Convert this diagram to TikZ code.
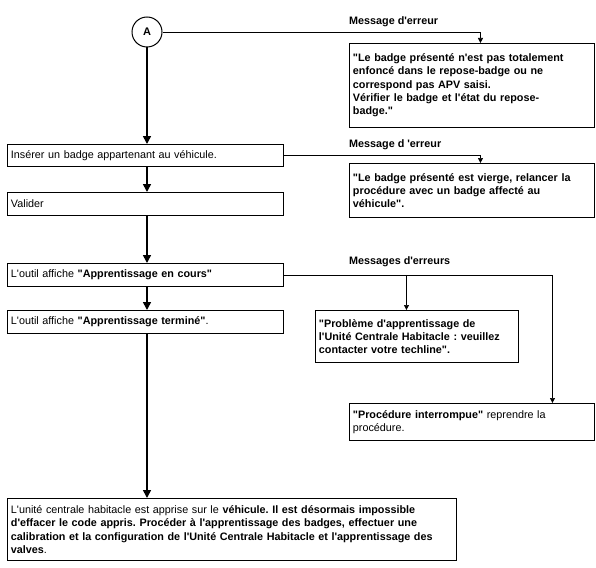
\documentclass[tikz,border=0pt]{standalone}
\usepackage{fontspec}
\usepackage{tikz}
\usetikzlibrary{calc,arrows.meta,positioning}
\newfontfamily\arialfont{Liberation Sans}
\definecolor{boxline}{RGB}{0,0,0}
\frenchspacing

\begin{document}
\begin{tikzpicture}[x=1pt, y=-1pt,
    box/.style={draw=boxline, line width=0.9pt, anchor=north west, align=left,
        inner xsep=3.5pt, inner ysep=4pt, font=\arialfont\fontsize{10.8}{13.3}\selectfont},
    msgbox/.style={box, font=\arialfont\bfseries\fontsize{10.8}{13.3}\selectfont},
    msglabel/.style={anchor=west, inner sep=0pt, font=\arialfont\bfseries\fontsize{10.8}{12}\selectfont},
    flow/.style={line width=1.6pt, -{Triangle[length=8pt,width=8pt]}},
    side/.style={line width=0.6pt, -{Triangle[length=5pt,width=5pt]}}]
    \useasboundingbox (0,0) rectangle (596,567);

    % start point
    \node[draw, circle, line width=1pt, minimum size=30pt, inner sep=0pt,
        font=\arialfont\bfseries\fontsize{11}{13}\selectfont] (A) at (147,32) {A};

    % main steps
    \node[box, text width=269pt, minimum height=22pt] (insert) at (7,144) {Insérer un badge appartenant au véhicule.};
    \node[box, text width=269pt, minimum height=23pt] (valid) at (7,192) {Valider};
    \node[box, text width=269pt, minimum height=23pt] (cours) at (7,263)
        {L'outil affiche \textbf{"Apprentissage en cours"}};
    \node[box, text width=269pt, minimum height=23pt] (fin) at (7,310)
        {L'outil affiche \textbf{"Apprentissage terminé"}.};
    \node[box, text width=442pt, minimum height=62pt] (final) at (7,498)
        {L'unité centrale habitacle est apprise sur le \textbf{véhicule. Il est désormais impossible}\\
         \textbf{d'effacer le code appris. Procéder à l'apprentissage des badges, effectuer une}\\
         \textbf{calibration et la configuration de l'Unité Centrale Habitacle et l'apprentissage des}\\
         \textbf{valves}.};

    % error messages
    \node[msglabel] (lab1) at (349,22) {Message d'erreur};
    \node[msgbox, text width=238pt, minimum height=84pt] (err1) at (349,43)
        {"Le badge présenté n'est pas totalement\\
         enfoncé dans le repose-badge ou ne\\
         correspond pas APV saisi.\\
         Vérifier le badge et l'état du repose-\\
         badge."};
    \node[msglabel] (lab2) at (349,145) {Message d 'erreur};
    \node[msgbox, text width=238pt, minimum height=54pt] (err2) at (349,163)
        {"Le badge présenté est vierge, relancer la\\
         procédure avec un badge affecté au\\
         véhicule".};
    \node[msglabel] (lab3) at (349,262) {Messages d'erreurs};
    \node[msgbox, text width=196pt, minimum height=52pt] (pb) at (315,310)
        {"Problème d'apprentissage de\\
         l'Unité Centrale Habitacle : veuillez\\
         contacter votre techline".};
    \node[box, text width=238pt, minimum height=37pt] (stop) at (349,403)
        {\textbf{"Procédure interrompue"} reprendre la\\
         procédure.};

    % main flow
    \draw[flow] (A) -- (A |- insert.north);
    \draw[flow] (insert.south -| A) -- (valid.north -| A);
    \draw[flow] (valid.south -| A) -- (cours.north -| A);
    \draw[flow] (cours.south -| A) -- (fin.north -| A);
    \draw[flow] (fin.south -| A) -- (final.north -| A);

    % branches to the messages
    \coordinate (err1top) at ([xshift=8.5pt]err1.north);
    \coordinate (err2top) at ([xshift=8.5pt]err2.north);
    \coordinate (pbtop) at ([xshift=-10.5pt]pb.north);
    \coordinate (stoptop) at ([xshift=80.5pt]stop.north);
    \draw[side] (A.east) -| (err1top);
    \draw[side] (insert.east) -| (err2top);
    \draw[side] (cours.east) -| (stoptop);
    \draw[side] (pbtop |- cours.east) -- (pbtop);
\end{tikzpicture}
\end{document}
